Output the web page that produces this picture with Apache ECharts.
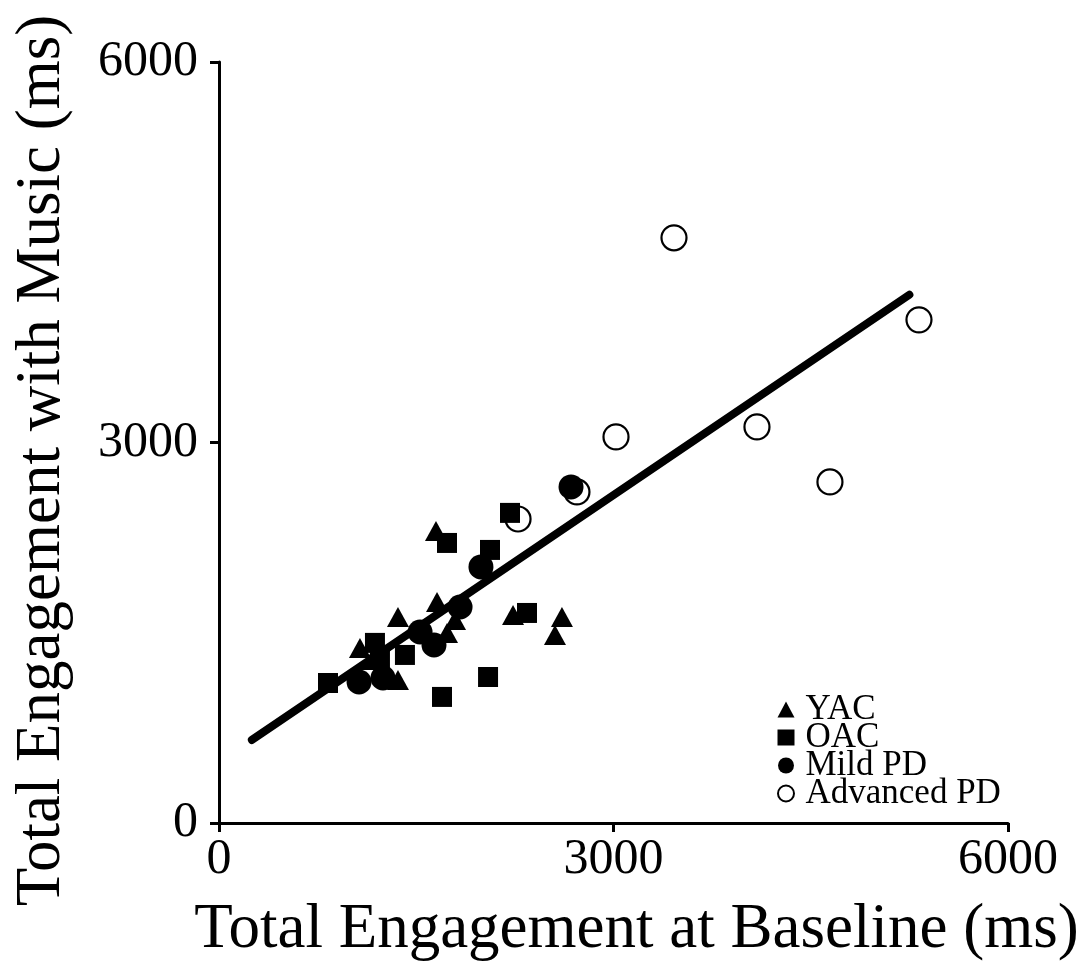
<!DOCTYPE html>
<html><head><meta charset="utf-8">
<script src="https://cdn.jsdelivr.net/npm/echarts@6/dist/echarts.min.js"></script>
<style>html,body{margin:0;padding:0;background:#fff}#c{width:1085px;height:974px}</style>
</head><body><div id="c"></div>
<script>
const xTicks = [0, 3000, 6000];
const yTicks = [0, 3000, 6000];

const yacX = [1072, 1163, 1361, 1361, 1650, 1658, 1734, 1795, 2236, 2608, 2555];
const yacY = [1380, 1285, 1128, 1625, 2303, 1743, 1498, 1601, 1640, 1625, 1483];

const oacX = [829, 1186, 1224, 1414, 1696, 1734, 2061, 2213, 2342, 2046];
const oacY = [1104, 1420, 1285, 1325, 994, 2208, 2153, 2445, 1656, 1151];

const mildX = [1065, 1247, 1529, 1635, 1833, 1992, 2677];
const mildY = [1112, 1144, 1506, 1404, 1703, 2019, 2650];

const advX = [3460, 5323, 3019, 4091, 4646, 2722, 2274];
const advY = [4614, 3967, 3044, 3123, 2689, 2610, 2397];

const fitX = [250, 5250];
const fitY = [655, 4165];

const zip = (a, b) => a.map((v, i) => [v, b[i]]);
const FONT = '"Liberation Serif", "DejaVu Serif", serif';

const chart = echarts.init(document.getElementById('c'), null, {renderer: 'canvas'});
chart.setOption({
  animation: false,
  backgroundColor: '#fff',
  grid: {left: 219, right: 77, top: 62, bottom: 151, containLabel: false},
  xAxis: {
    type: 'value', min: 0, max: 6000, interval: 3000,
    name: 'Total Engagement at Baseline (ms)', nameLocation: 'middle', nameGap: 76,
    nameTextStyle: {fontFamily: FONT, fontSize: 63, color: '#000', padding: [0, 0, 0, 46]},
    axisLine: {show: true, lineStyle: {color: '#000', width: 3}},
    axisTick: {show: true, length: 9, lineStyle: {color: '#000', width: 3}},
    axisLabel: {fontFamily: FONT, fontSize: 50, color: '#000', margin: 12,
      formatter: v => xTicks.includes(v) ? String(v) : ''},
    splitLine: {show: false}
  },
  yAxis: {
    type: 'value', min: 0, max: 6000, interval: 3000,
    name: 'Total Engagement with Music (ms)', nameLocation: 'middle', nameGap: 145,
    nameTextStyle: {fontFamily: FONT, fontSize: 63, color: '#000', padding: [0, 36, 0, 0]},
    axisLine: {show: true, lineStyle: {color: '#000', width: 3}},
    axisTick: {show: true, length: 9, lineStyle: {color: '#000', width: 3}},
    axisLabel: {fontFamily: FONT, fontSize: 50, color: '#000', margin: 21,
      formatter: v => yTicks.includes(v) ? String(v) : ''},
    splitLine: {show: false}
  },
  legend: {
    orient: 'vertical', left: 772, top: 687,
    itemWidth: 17, itemHeight: 16, itemGap: -7,
    textStyle: {fontFamily: FONT, fontSize: 35, color: '#000', padding: [0, 0, 0, 6]},
    data: ['YAC', 'OAC', 'Mild PD', 'Advanced PD']
  },
  series: [
    {name: 'Advanced PD', type: 'scatter', symbol: 'circle', symbolSize: 25, z: 2,
      itemStyle: {color: 'rgba(255,255,255,0)', borderColor: '#000', borderWidth: 2.2, opacity: 1},
      data: zip(advX, advY)},
    {name: 'fit', type: 'line', data: zip(fitX, fitY), symbol: 'none', z: 3,
      lineStyle: {color: '#000', width: 8, cap: 'round'}},
    {name: 'YAC', type: 'scatter', symbol: 'triangle', symbolSize: [22, 20], z: 4,
      itemStyle: {color: '#000', opacity: 1}, data: zip(yacX, yacY)},
    {name: 'OAC', type: 'scatter', symbol: 'rect', symbolSize: 20, z: 4,
      itemStyle: {color: '#000', opacity: 1}, data: zip(oacX, oacY)},
    {name: 'Mild PD', type: 'scatter', symbol: 'circle', symbolSize: 25, z: 4,
      itemStyle: {color: '#000', opacity: 1}, data: zip(mildX, mildY)}
  ]
});
</script>
</body></html>
